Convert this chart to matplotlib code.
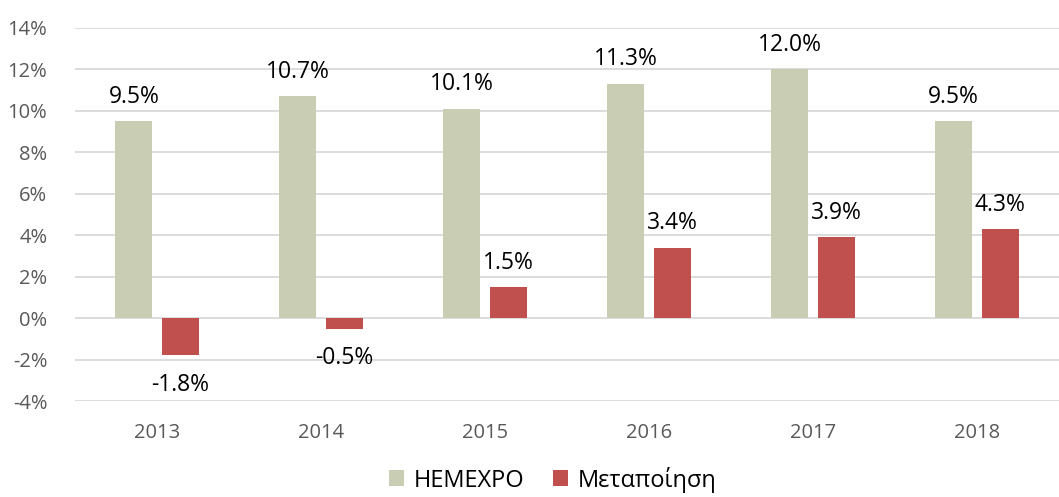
import numpy as np
import matplotlib.pyplot as plt
from matplotlib.ticker import FuncFormatter

plt.rcParams['font.family'] = ['Open Sans', 'DejaVu Sans']

years = ['2013', '2014', '2015', '2016', '2017', '2018']
hemexpo = [9.5, 10.7, 10.1, 11.3, 12.0, 9.5]
metapoiisi = [-1.8, -0.5, 1.5, 3.4, 3.9, 4.3]

green = '#C9CDB4'
red = '#C0504D'

fig = plt.figure(figsize=(10.59, 4.97), dpi=100)
ax = fig.add_axes([0.071, 0.193, 0.929, 0.751])

x = np.arange(len(years))
w = 0.225
off = 0.142
b1 = ax.bar(x - off, hemexpo, w, color=green, label='HEMEXPO', zorder=3)
b2 = ax.bar(x + off, metapoiisi, w, color=red, label='Μεταποίηση', zorder=3)

for bars, vals in [(b1, hemexpo), (b2, metapoiisi)]:
    for r, v in zip(bars, vals):
        cx = r.get_x() + r.get_width() / 2
        if v >= 0:
            ax.text(cx, v + 0.6, f'{v:.1f}%', ha='center', va='bottom', fontsize=16.5, color='black')
        else:
            ax.text(cx, v - 0.85, f'{v:.1f}%', ha='center', va='top', fontsize=16.5, color='black')

ax.set_ylim(-4, 14)
ax.set_yticks(range(-4, 15, 2))
ax.yaxis.set_major_formatter(FuncFormatter(lambda v, p: f'{v:.0f}%'))
ax.set_xlim(-0.5, len(years) - 0.5)
ax.set_xticks(x)
ax.set_xticklabels(years)
ax.tick_params(length=0, labelsize=14.5, colors='#595959')
ax.tick_params(axis='y', pad=20)
ax.tick_params(axis='x', pad=16)
ax.grid(axis='y', color='#D9D9D9', linewidth=1.3, zorder=0)
for s in ax.spines.values():
    s.set_visible(False)

fig.legend(loc='lower center', bbox_to_anchor=(0.522, -0.034), ncol=2, frameon=False,
           fontsize=17, handlelength=0.65, handleheight=0.65, columnspacing=1.2, handletextpad=0.4)

fig.savefig('out.png', dpi=100)
